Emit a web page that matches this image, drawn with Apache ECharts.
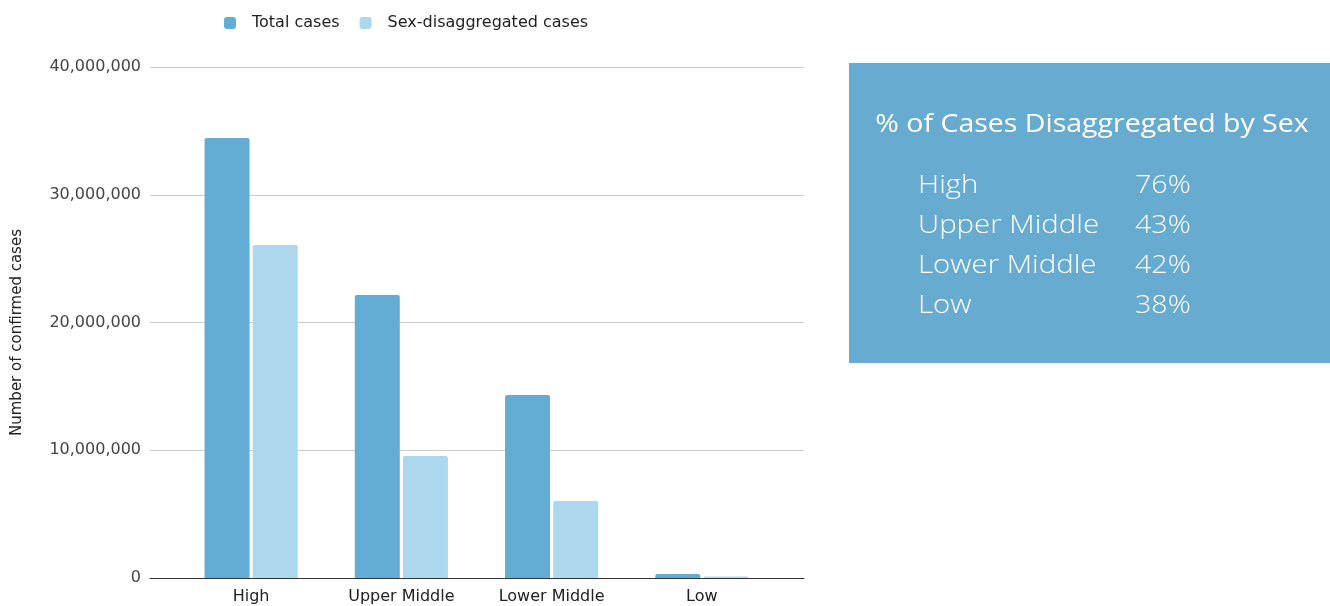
<!DOCTYPE html>
<html>
<head>
<meta charset="utf-8">
<script src="https://cdn.jsdelivr.net/npm/echarts@6/dist/echarts.min.js"></script>
<style>html,body{margin:0;padding:0;background:#fff}#c{width:1330px;height:606px}</style>
</head>
<body>
<div id="c"></div>
<script>
const categories = ['High', 'Upper Middle', 'Lower Middle', 'Low'];
const totalCases = [34440000, 22150000, 14320000, 310000];
const sexDisaggregated = [26070000, 9550000, 6030000, 120000];
const pctLabels = ['High', 'Upper Middle', 'Lower Middle', 'Low'];
const pctValues = ['76%', '43%', '42%', '38%'];
const yTicks = [0, 10000000, 20000000, 30000000, 40000000];

const chart = echarts.init(document.getElementById('c'), null, {renderer: 'canvas'});
const fmt = v => v.toString().replace(/\B(?=(\d{3})+(?!\d))/g, ',');
const boxFont = '"Open Sans", sans-serif';

const graphics = [
  {type: 'rect', shape: {x: 849, y: 63, width: 481, height: 300}, style: {fill: '#67abd1'}, z: 0},
  {type: 'text', x: 1092, y: 125, scaleX: 1.14, style: {text: '% of Cases Disaggregated by Sex', fill: '#fff', font: '500 25px ' + boxFont, textAlign: 'center', textVerticalAlign: 'middle'}}
];
pctLabels.forEach((l, i) => {
  const y = 186 + i * 40;
  graphics.push({type: 'text', x: 918, y: y, scaleX: 1.13, style: {text: l, fill: '#fff', font: '300 26px ' + boxFont, textAlign: 'left', textVerticalAlign: 'middle'}});
  graphics.push({type: 'text', x: 1135, y: y, scaleX: 1.1, style: {text: pctValues[i], fill: '#fff', font: '300 26px ' + boxFont, textAlign: 'left', textVerticalAlign: 'middle'}});
});

chart.setOption({
  animation: false,
  textStyle: {fontFamily: '"DejaVu Sans", sans-serif'},
  legend: {
    top: 15, left: 224, padding: 0, itemWidth: 12, itemHeight: 12, itemGap: 20, icon: 'roundRect',
    textStyle: {fontSize: 16, color: '#222', padding: [0, 0, 0, 11]},
    data: ['Total cases', 'Sex-disaggregated cases']
  },
  grid: [
    {left: 150, right: 526, top: 67, bottom: 28},
    {left: 176, width: 601, top: 67, bottom: 28}
  ],
  xAxis: [
    {type: 'category', gridIndex: 0, data: [''], axisLabel: {show: false}, axisTick: {show: false},
     axisLine: {show: true, lineStyle: {color: '#333', width: 1}}},
    {type: 'category', gridIndex: 1, data: categories, axisTick: {show: false}, axisLine: {show: false},
     axisLabel: {fontSize: 16, color: '#222', margin: 11}}
  ],
  yAxis: [
    {type: 'value', gridIndex: 0, min: 0, max: 40000000, interval: 10000000,
     axisLabel: {fontSize: 16, color: '#444', margin: 9, formatter: v => yTicks.includes(v) ? fmt(v) : ''},
     axisLine: {show: false}, axisTick: {show: false},
     splitLine: {lineStyle: {color: '#ccc'}},
     name: 'Number of confirmed cases', nameLocation: 'middle', nameGap: 125, nameRotate: 90,
     nameTextStyle: {fontSize: 15, color: '#222', padding: [0, 20, 0, 0]}},
    {type: 'value', gridIndex: 1, min: 0, max: 40000000, show: false, splitLine: {show: false}}
  ],
  series: [
    {name: 'Total cases', type: 'bar', xAxisIndex: 1, yAxisIndex: 1, data: totalCases,
     barWidth: 45, barGap: '7%', itemStyle: {color: '#63acd3', borderRadius: [2, 2, 0, 0]}, z: 1},
    {name: 'Sex-disaggregated cases', type: 'bar', xAxisIndex: 1, yAxisIndex: 1, data: sexDisaggregated,
     barWidth: 45, barGap: '7%', itemStyle: {color: '#abd8ed', borderRadius: [2, 2, 0, 0]}, z: 1}
  ],
  graphic: graphics
});
</script>
</body>
</html>
